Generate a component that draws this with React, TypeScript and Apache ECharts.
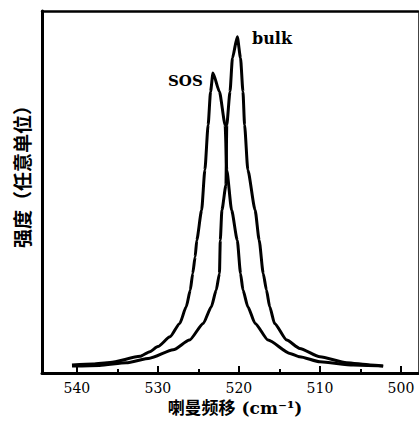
import React, { useEffect, useRef } from "react";
import * as echarts from "echarts";

// Raman shift (cm-1) and intensity (arbitrary units)
const sosShift = [540.6, 538.0, 535.9, 532.2, 531.0, 530.0, 528.5, 527.3, 526.5, 526.0, 525.7, 525.4, 525.2, 524.6, 524.2, 523.8, 523.5, 523.2, 522.4, 521.7, 521.5, 520.9, 520.2, 519.8, 519.5, 518.9, 518.0, 516.4, 513.7, 512.5, 510.0, 505.9, 502.2];
const sosIntensity = [2.2, 2.5, 2.9, 4.6, 5.9, 7.3, 10.0, 13.7, 18.3, 22.9, 27.5, 32.1, 36.7, 45.0, 56.1, 68.5, 77.7, 82.9, 77.7, 68.5, 56.1, 45.0, 36.7, 27.5, 22.9, 18.3, 13.7, 9.1, 5.4, 4.5, 3.1, 2.2, 1.9];

const bulkShift = [540.6, 537.2, 533.9, 531.0, 528.1, 526.1, 524.4, 523.4, 522.8, 522.4, 522.3, 522.1, 521.6, 521.5, 521.1, 520.8, 520.2, 519.8, 519.5, 519.3, 518.9, 518.0, 517.5, 517.0, 516.6, 516.2, 515.6, 514.1, 512.5, 510.0, 506.7, 503.8, 502.2];
const bulkIntensity = [1.9, 2.1, 2.8, 4.1, 6.4, 9.1, 13.7, 18.3, 22.9, 27.5, 36.7, 45.0, 51.9, 68.5, 77.7, 87.0, 92.9, 87.0, 77.7, 68.5, 56.1, 45.0, 36.7, 27.5, 22.9, 18.3, 13.7, 9.1, 6.8, 4.5, 2.85, 2.2, 1.9];

const majorTicks = [500, 510, 520, 530, 540];
const minorTicks = [505, 515, 525, 535];

const xName = "喇曼频移 (cm⁻¹)";
const yName = "强度（任意单位）";

export default function App() {
  const ref = useRef<HTMLDivElement>(null);
  useEffect(() => {
    if (!ref.current) return;
    const chart = echarts.init(ref.current, null, { renderer: "svg" });
    const sosData = sosShift.map((x, i) => [x, sosIntensity[i]]);
    const bulkData = bulkShift.map((x, i) => [x, bulkIntensity[i]]);
    const xMin = 497.9;
    const xMax = 544.3;
    const lineStyle = { color: "#000", width: 3 };
    chart.setOption({
      animation: false,
      backgroundColor: "#fff",
      grid: { left: 42, right: 1, top: 11, bottom: 51, containLabel: false },
      xAxis: [
        {
          type: "value",
          min: xMin,
          max: xMax,
          inverse: true,
          position: "bottom",
          axisLine: { show: true, lineStyle: { color: "#000", width: 3 } },
          axisTick: { show: true, inside: true, length: 7, lineStyle: { color: "#000", width: 2 }, customValues: majorTicks },
          axisLabel: { show: true, margin: 8, color: "#000", fontFamily: "DejaVu Serif", fontSize: 14, customValues: majorTicks },
          splitLine: { show: false },
          name: xName,
          nameLocation: "middle",
          nameGap: 26,
          nameTextStyle: { color: "#000", fontFamily: "DejaVu Serif, Noto Sans CJK SC", fontSize: 17, fontWeight: "bold", padding: [0, 0, 0, 10] },
        },
        {
          type: "value",
          min: xMin,
          max: xMax,
          inverse: true,
          position: "bottom",
          axisLine: { show: false },
          axisTick: { show: true, inside: true, length: 4, lineStyle: { color: "#000", width: 2 }, customValues: minorTicks },
          axisLabel: { show: false },
          splitLine: { show: false },
        },
        {
          type: "value",
          min: xMin,
          max: xMax,
          inverse: true,
          position: "top",
          axisLine: { show: true, lineStyle: { color: "#000", width: 2.5 } },
          axisTick: { show: false },
          axisLabel: { show: false },
          splitLine: { show: false },
        },
      ],
      yAxis: [
        {
          type: "value",
          min: 0,
          max: 100,
          position: "left",
          axisLine: { show: true, lineStyle: { color: "#000", width: 3 } },
          axisTick: { show: false },
          axisLabel: { show: false },
          splitLine: { show: false },
          name: yName,
          nameLocation: "middle",
          nameRotate: 90,
          nameGap: 11,
          nameTextStyle: { color: "#000", fontFamily: "Noto Sans CJK SC", fontSize: 19, fontWeight: "bold", padding: [0, 0, 0, 40] },
        },
        {
          type: "value",
          min: 0,
          max: 100,
          position: "right",
          axisLine: { show: true, lineStyle: { color: "#444", width: 1 } },
          axisTick: { show: false },
          axisLabel: { show: false },
          splitLine: { show: false },
        },
      ],
      series: [
        { name: "SOS", type: "line", data: sosData, showSymbol: false, symbol: "none", smooth: 0.2, smoothMonotone: "x", lineStyle, xAxisIndex: 0, yAxisIndex: 0 },
        { name: "bulk", type: "line", data: bulkData, showSymbol: false, symbol: "none", smooth: 0.2, smoothMonotone: "x", lineStyle, xAxisIndex: 0, yAxisIndex: 0 },
      ],
      graphic: [
        { type: "text", left: 168, top: 73, style: { text: "SOS", fill: "#000", font: "bold 15px 'DejaVu Serif'" } },
        { type: "text", left: 252, top: 30, style: { text: "bulk", fill: "#000", font: "bold 16px 'DejaVu Serif'" } },
      ],
    });
    return () => chart.dispose();
  }, []);
  return <div ref={ref} style={{ position: "absolute", left: 0, top: 0, width: 419, height: 424 }} />;
}
